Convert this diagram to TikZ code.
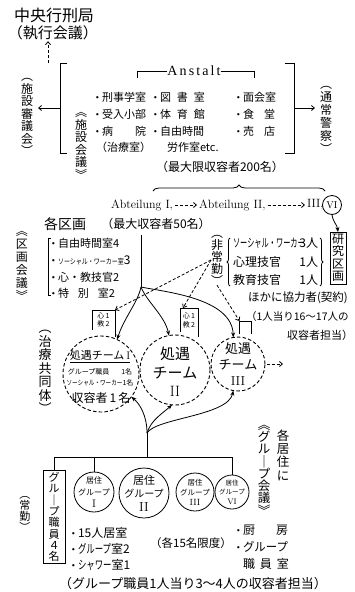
\documentclass[tikz,border=0pt]{standalone}
\usepackage{fontspec}
\newfontfamily\jp{Noto Sans CJK JP}
\newfontfamily\latw{Liberation Serif}[LetterSpace=15]
\usetikzlibrary{arrows.meta,decorations.pathreplacing}
\newcommand{\fs}[1]{\fontsize{#1}{#1}\selectfont}
\newcommand{\bu}{\makebox[8pt][l]{\raisebox{2pt}{\rmfamily\fontsize{8}{8}\selectfont\textbullet}}}
\newcommand{\nk}[2][0.7]{\scalebox{#1}[1]{#2}}
\begin{document}
\begin{tikzpicture}[x=1pt,y=-1pt,
  every node/.style={inner sep=0pt, outer sep=0pt},
  ln/.style={line width=0.8pt},
  sarr/.style={-{Stealth[length=5pt,width=4pt]}},
  barb/.style={-{Straight Barb[length=3pt,width=5pt]}},
  dsh/.style={dash pattern=on 3pt off 2pt},
  vt/.style 2 args={align=center, font=\jp\fontsize{#1}{#2}\selectfont},
  jt/.style={font=\jp\fs{#1}},
  tc/.style={draw, circle, line width=0.9pt, dash pattern=on 3.5pt off 2.2pt},
  rc/.style={draw, circle, line width=0.8pt},
  boxv/.style={draw, line width=0.8pt, inner sep=2pt}
]
\useasboundingbox (0,0) rectangle (354,592);

% ---------- top ----------
\node[jt=16] (hq) at (54,15) {中央行刑局};
\node[jt=15] (exec) at (53,33) {（執行会議）};
\coordinate (c0) at (48,63);
\draw[ln,dsh,barb,shorten >=1pt] (c0) -- (c0 |- exec.south);

\draw[ln] (67,63) -- (60,63) -- (60,153) -- (67,153);
\draw[ln] (285,63) -- (294,63) -- (294,153) -- (285,153);
\coordinate (bL) at (60,108);
\coordinate (bR) at (294,108);
\node[vt={12}{12.5}] (council) at (27,117) {︵\\施\\設\\審\\議\\会\\︶};
\node[vt={12}{13}] (police) at (326,120) {︵\\通\\常\\警\\察\\︶};
\draw[ln,barb,shorten >=5pt] (bL) -- (bL -| council.east);
\draw[ln,barb,shorten >=5pt] (bR) -- (bR -| police.west);
\node[vt={12}{12.5}] (fc) at (81,146) {︽\\施\\設\\会\\議\\︾};

\node[font=\latw\fontsize{14}{14}\selectfont] (anst) at (194,71) {Anstalt};
\draw[ln] (anst.west) -- ++(-30,0) -- ++(0,7);
\draw[ln] (anst.east) -- ++(34,0) -- ++(0,7);

\node[jt=11, anchor=west] (a11) at (94,97) {\bu 刑事学室};
\node[jt=11, anchor=west] (a12) at (94,114) {\bu 受入小部};
\node[jt=11, anchor=west] (a13) at (94,131) {\bu 病\hspace{22pt}院};
\node[jt=11, anchor=west] (a14) at (96,147) {（治療室）};
\node[jt=11, anchor=west] (a21) at (152,97) {\bu 図\hspace{6pt}書\hspace{6pt}室};
\node[jt=11, anchor=west] (a22) at (152,114) {\bu 体\hspace{6pt}育\hspace{6pt}館};
\node[jt=11, anchor=west] (a23) at (152,131) {\bu 自由時間};
\node[jt=11, anchor=west] (a24) at (167,147) {労作室etc.};
\node[jt=11, anchor=west] (a31) at (235,97) {\bu 面会室};
\node[jt=11, anchor=west] (a32) at (235,114) {\bu 食\hspace{10pt}堂};
\node[jt=11, anchor=west] (a33) at (235,131) {\bu 売\hspace{10pt}店};
\node[jt=12] (cap200) at (220,167) {（最大限収容者200名）};

% ---------- Abteilung ----------
\draw[ln,decorate,decoration={brace,amplitude=6pt}] (153,191) -- (325,191);
\node[font=\rmfamily\fs{12}, anchor=west] (ab1) at (111,205) {Abteilung I,};
\node[font=\rmfamily\fs{12}, anchor=west] (ab2) at (199,205) {Abteilung II,};
\node[font=\rmfamily\fs{12}, anchor=west] (ab3) at (307,205) {III,};
\node[draw, circle, ln, minimum size=19pt, font=\rmfamily\fs{10}] (vi) at (332,205) {VI};
\draw[ln,dsh,barb,shorten <=2pt,shorten >=2pt] (ab1.east) -- (ab2.west);
\draw[ln,dsh,barb,shorten <=2pt,shorten >=2pt] (ab2.east) -- (ab3.west);
\node[boxv, vt={12}{12.5}] (ken) at (338,258) {研\\究\\区\\画};
\draw[ln,sarr] (vi.south) .. controls +(1,8) and +(-1,-8) .. (ken.north);

% ---------- Kukaku ----------
\node[jt=14] (ku) at (65,224) {各区画};
\node[jt=12] (cap50) at (156,224) {（最大収容者50名）};
\node[vt={12}{13}] (kk) at (22,266) {︽\\区\\画\\会\\議\\︾};
\draw[ln] (51,238) -- (48,238) -- (48,295) -- (51,295);
\node[jt=11, anchor=west] (k1) at (50,243) {\bu 自由時間室4};
\node[jt=11, anchor=west] (k2) at (50,260) {\bu \nk[0.8]{\fs{7.5}ソーシャル・ワーカー室}\fs{12}3};
\node[jt=11, anchor=west] (k3) at (50,277) {\bu 心・教技官2};
\node[jt=11, anchor=west] (k4) at (50,293) {\bu 特\hspace{9pt}別\hspace{9pt}室2};

\coordinate (vb) at (141,287);
\draw[ln,shorten <=5pt] (vb |- cap50.south) -- (vb);

% non-regular staff
\node[vt={12}{12}] (hj) at (217,260) {︵\\非\\常\\勤\\︶};
\draw[ln,decorate,decoration={brace,amplitude=3pt}] (230,286) -- (230,238);
\draw[ln,decorate,decoration={brace,amplitude=3pt}] (320,238) -- (320,286);
\node[jt=12, anchor=west] (h1) at (233,243) {\nk[0.6]{ソーシャル・ワーカー}};
\node[jt=12, anchor=east] (h1n) at (318,243) {3人};
\node[jt=12, anchor=west] (h2) at (233,262) {心理技官};
\node[jt=12, anchor=east] (h2n) at (318,262) {1人};
\node[jt=12, anchor=west] (h3) at (233,280) {教育技官};
\node[jt=12, anchor=east] (h3n) at (318,280) {1人};
\node[jt=11.5, anchor=west] (ex1) at (248,298) {ほかに協力者(契約)};
\node[jt=10.5, anchor=west] (ex2) at (246,317) {（1人当り16〜17人の};
\node[jt=11, anchor=east] (ex3) at (353,335) {収容者担当）};

% small boxes
\node[minimum width=23pt, minimum height=20pt, align=center, font=\jp\fontsize{7}{8.5}\selectfont] (b1) at (103.5,320) {心\,1\\教\,2};
\draw[ln] (b1.south west) -- (b1.north west) -- (b1.north east) -- ++(0,27);
\node[minimum width=18pt, minimum height=24pt, align=center, font=\jp\fontsize{7}{9}\selectfont] (b2) at (189,320) {心\,1\\教\,2};
\draw[ln] (b2.south west) -- (b2.north west) -- (b2.north east) -- ++(0,29);
\node[minimum width=12pt, minimum height=13pt] (b3) at (245.5,327.5) {};
\draw[ln] (b3.south west) -- (b3.north west) -- (b3.north east) -- (b3.south east);

% team circles
\node[tc, minimum size=76pt] (t1) at (101,374) {};
\node[tc, minimum size=70pt] (t2) at (175,370) {};
\node[tc, minimum size=54pt] (t3) at (238,364) {};
\node[jt=11] (t1a) at (100,355) {処遇チーム\,{\rmfamily I}};
\draw[ln] ([yshift=-2pt]t1a.south west) -- ([yshift=-2pt]t1a.south east);
\node[jt=7] (t1b) at (100,372) {グループ職員\hspace{12pt}1名};
\node[jt=7] (t1c) at (100,383) {\nk[0.8]{ソーシャル・ワーカー}1名};
\node[jt=12] (t1d) at (101,398) {収容者\,1\,名};
\node[vt={15}{18.5}] (t2t) at (175,372) {処遇\\チーム\\{\rmfamily II}};
\node[vt={13}{16}] (t3t) at (238,364) {処遇\\チーム\\{\rmfamily III}};
\coordinate (t3r) at (283,364);
\draw[ln,dsh,barb,shorten <=2pt] (t3.east) -- (t3r);
\node[vt={13}{13.5}] (cr) at (45,372) {︵\\治\\療\\共\\同\\体\\︶};

% branch arrows from top
\draw[ln,sarr] (vb) .. controls (138,302) and (124,318) .. (t1.65);
\draw[ln,sarr] (vb) .. controls (147,302) and (165,316) .. (t2.100);
\draw[ln,sarr] (vb) .. controls (165,292) and (232,298) .. (t3.100);
% dashed from non-regular
\draw[ln,dsh,barb] (hj.west) -- (b1.north east);
\draw[ln,dsh,barb] (hj.west) -- ([xshift=3pt]b2.north west);
\draw[ln,dsh,barb] (hj.south) -- (b3.north west);

% ---------- bottom ----------
\coordinate (bc) at (147,433);
\coordinate (bbar) at (147,457);
\draw[ln,sarr] (bc) .. controls (147,416) and (140,404) .. (t1.-37);
\draw[ln,sarr] (bc) .. controls (151,420) and (163,413) .. (t2.-95);
\draw[ln,sarr] (bc) .. controls (156,418) and (228,416) .. (t3.-100);

\node[boxv, minimum width=22pt, vt={11}{11.3}] (g4) at (54,517) {グ\\ル\\｜\\プ\\職\\員\\４\\名};
\node[vt={11}{11}] (jk) at (25,514) {︵\\常\\勤\\︶};
\node[rc, minimum size=40pt] (r1) at (94,492) {};
\node[rc, minimum size=50pt] (r2) at (144,493) {};
\node[rc, minimum size=38pt] (r3) at (195,492) {};
\node[rc, minimum size=34pt] (r6) at (232,492) {};
\node[align=center, font=\jp\fontsize{8}{12}\selectfont] (r1t) at (94,492) {居住\\グループ\\{\rmfamily\fs{11}I}};
\node[align=center, font=\jp\fontsize{11}{13.5}\selectfont] (r2t) at (144,493) {居住\\{\fs{10}グループ}\\{\rmfamily\fs{13}II}};
\node[align=center, font=\jp\fontsize{7.5}{10}\selectfont] (r3t) at (195,492) {居住\\グループ\\{\rmfamily\fs{9}III}};
\node[align=center, font=\jp\fontsize{6.5}{9.5}\selectfont] (r6t) at (232,492) {居住\\グループ\\{\rmfamily\fs{8}VI}};

\draw[ln] (bc) -- (bbar);
\draw[ln] (g4.north) -- (g4.north |- bbar) -- (r6.north |- bbar) -- (r6.north);
\draw[ln] (r1.north |- bbar) -- (r1.north);

\node[vt={12.5}{13.3}] (kg1) at (283,455) {各\\居\\住\\に};
\node[vt={12.5}{12.3}] (kg2) at (264,470) {︽\\グ\\ル\\｜\\プ\\会\\議\\︾};

\node[jt=12, anchor=west] (l1) at (70,533) {\bu 15人居室};
\node[jt=12, anchor=west] (l2) at (70,549) {\bu \nk{グループ}室2};
\node[jt=12, anchor=west] (l3) at (70,565) {\bu \nk{シャワー}室1};
\node[jt=11.5] (lim) at (191,543) {（各15名限度）};
\node[jt=12, anchor=west] (m1) at (235,530) {\bu 厨\hspace{21pt}房};
\node[jt=12, anchor=west] (m2) at (235,547) {\bu \nk[0.95]{グループ}};
\node[jt=12, anchor=west] (m3) at (243,564) {職\hspace{5pt}員\hspace{5pt}室};
\node[jt=13] (foot) at (193,584) {（グループ職員1人当り3〜4人の収容者担当）};
\end{tikzpicture}
\end{document}
